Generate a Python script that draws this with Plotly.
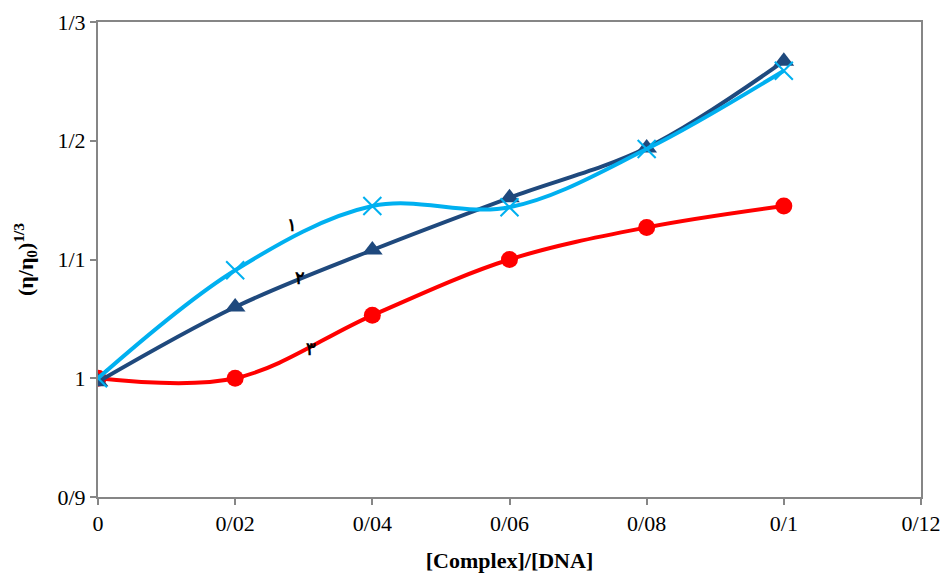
import plotly.graph_objects as go

x = [0, 0.02, 0.04, 0.06, 0.08, 0.1]
s1 = [1.0, 1.091, 1.145, 1.144, 1.193, 1.259]
s2 = [0.997, 1.060, 1.108, 1.152, 1.194, 1.267]
s3 = [1.0, 1.0, 1.053, 1.100, 1.127, 1.145]

xtick_vals = [0, 0.02, 0.04, 0.06, 0.08, 0.1, 0.12]
xtick_text = ["0", "0/02", "0/04", "0/06", "0/08", "0/1", "0/12"]
ytick_vals = [0.9, 1.0, 1.1, 1.2, 1.3]
ytick_text = ["0/9", "1", "1/1", "1/2", "1/3"]

labels = ["۱", "۲", "۳"]
label_x = [0.0283, 0.0295, 0.0310]
label_y = [1.1295, 1.0850, 1.0255]

fig = go.Figure()
fig.add_trace(go.Scatter(x=x, y=s3, mode="lines+markers", line=dict(color="#FF0000", width=4, shape="spline", smoothing=1),
                         marker=dict(symbol="circle", size=17, color="#FF0000"), showlegend=False))
fig.add_trace(go.Scatter(x=x, y=s2, mode="lines+markers", line=dict(color="#1F497D", width=4, shape="spline", smoothing=1),
                         marker=dict(symbol="triangle-up", size=18, color="#1F497D"), showlegend=False))
fig.add_trace(go.Scatter(x=x, y=s1, mode="lines+markers", line=dict(color="#00B0F0", width=4, shape="spline", smoothing=1),
                         marker=dict(symbol="x-thin-open", size=18, line=dict(color="#00B0F0", width=2)), showlegend=False))

for t, lx, ly in zip(labels, label_x, label_y):
    fig.add_annotation(x=lx, y=ly, text="<b>" + t + "</b>", showarrow=False,
                       font=dict(family="Noto Sans", size=18, color="black"))

axis_common = dict(showline=True, linecolor="#868686", linewidth=2, mirror=True, ticks="outside",
                   tickcolor="#868686", ticklen=6, tickwidth=1.5, showgrid=False, zeroline=False,
                   automargin=False,
                   tickfont=dict(family="Liberation Serif", size=22, color="black"))

fig.update_xaxes(range=[0, 0.12], tickvals=xtick_vals, ticktext=xtick_text,
                 title=dict(text="<b>[Complex]/[DNA]</b>", font=dict(family="Liberation Serif", size=22, color="black"), standoff=18),
                 **axis_common)
fig.update_yaxes(range=[0.9, 1.3], tickvals=ytick_vals, ticktext=ytick_text,
                 title=dict(text="<b>(η/η<sub>0</sub>)<sup>1/3</sup></b>", font=dict(family="Liberation Serif", size=22, color="black"), standoff=18),
                 **axis_common)

fig.update_layout(width=941, height=573, margin=dict(l=98, r=20, t=22, b=76),
                  plot_bgcolor="white", paper_bgcolor="white")
fig.write_html("out.html")
